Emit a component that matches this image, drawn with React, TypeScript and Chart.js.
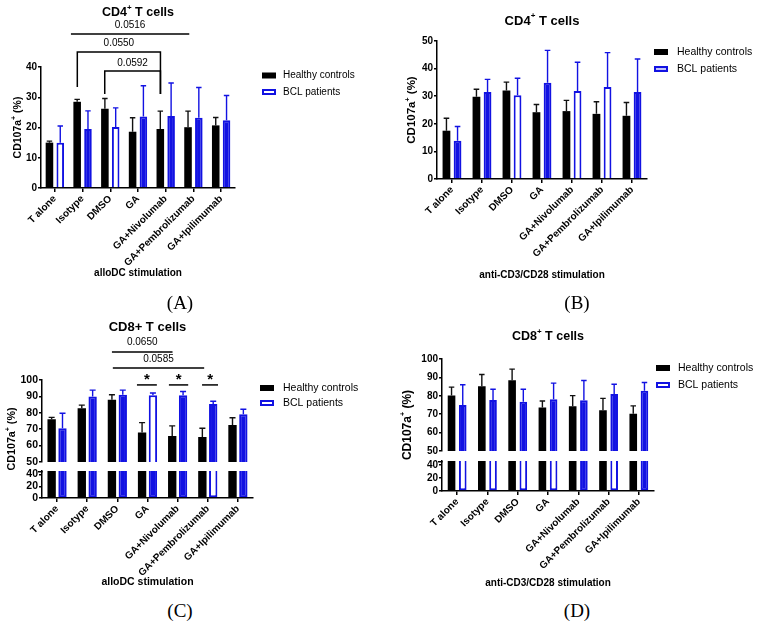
import React, { useEffect, useRef } from 'react';
import { Chart, registerables } from 'chart.js';

Chart.register(...registerables);

// ---------------- data ----------------
const categories = ['T alone', 'Isotype', 'DMSO', 'GA', 'GA+Nivolumab', 'GA+Pembrolizumab', 'GA+Ipilimumab'];
const seriesNames = ['Healthy controls', 'BCL patients'];

// (A) CD4+ T cells, alloDC stimulation
const cd4AlloHealthy = [15.0, 28.5, 26.2, 18.6, 19.5, 20.1, 20.7];
const cd4AlloHealthySD = [0.5, 0.8, 3.4, 4.6, 5.9, 5.3, 2.6];
const cd4AlloBcl = [15.0, 19.5, 20.2, 23.6, 23.8, 23.2, 22.4];
const cd4AlloBclSD = [5.5, 6.0, 6.3, 10.2, 10.9, 10.0, 8.2];

// (B) CD4+ T cells, anti-CD3/CD28 stimulation
const cd4Cd3Healthy = [17.5, 29.8, 32.1, 24.2, 24.6, 23.6, 22.9];
const cd4Cd3HealthySD = [4.5, 2.7, 3.0, 2.8, 3.9, 4.4, 4.8];
const cd4Cd3Bcl = [13.9, 31.5, 30.3, 34.9, 31.9, 33.3, 31.5];
const cd4Cd3BclSD = [5.1, 4.6, 6.2, 11.7, 10.4, 12.5, 12.0];

// (C) CD8+ T cells, alloDC stimulation
const cd8AlloHealthy = [76.0, 82.8, 88.0, 68.0, 65.8, 65.2, 72.5];
const cd8AlloHealthySD = [1.2, 1.9, 3.0, 6.0, 6.2, 5.4, 4.5];
const cd8AlloBcl = [70.6, 90.0, 91.0, 90.7, 90.7, 85.3, 79.1];
const cd8AlloBclSD = [9.1, 3.8, 2.8, 1.4, 2.3, 1.7, 3.1];

// (D) CD8+ T cells, anti-CD3/CD28 stimulation
const cd8Cd3Healthy = [80.1, 85.2, 88.5, 73.7, 74.3, 72.1, 70.3];
const cd8Cd3HealthySD = [4.6, 6.4, 6.0, 3.5, 5.8, 6.5, 4.2];
const cd8Cd3Bcl = [75.0, 77.7, 76.8, 78.1, 77.6, 81.0, 82.7];
const cd8Cd3BclSD = [11.0, 5.9, 6.8, 8.8, 10.7, 5.3, 4.5];

// significance brackets (x in category units, y in data units)
type Bracket = { x1: number; x2: number; y: number; leg1?: number; leg2?: number; text: string; ty: number; star?: boolean };
const bracketsA: Bracket[] = [
  { x1: 0.58, x2: 4.85, y: 50.9, text: '0.0516', ty: 53.7 },
  { x1: 0.81, x2: 3.81, y: 45.0, leg1: 33.4, leg2: 31.1, text: '0.0550', ty: 47.9 },
  { x1: 1.8, x2: 3.81, y: 38.7, leg1: 31.1, leg2: 31.1, text: '0.0592', ty: 41.3 },
];
const bracketsC: Bracket[] = [
  { x1: 1.82, x2: 3.83, y: 117.1, text: '0.0650', ty: 123.2 },
  { x1: 1.85, x2: 4.88, y: 107.3, text: '0.0585', ty: 112.8 },
  { x1: 2.65, x2: 3.31, y: 97.0, text: '*', ty: 97.3, star: true },
  { x1: 3.71, x2: 4.35, y: 97.0, text: '*', ty: 97.3, star: true },
  { x1: 4.81, x2: 5.34, y: 97.0, text: '*', ty: 97.3, star: true },
];

// ---------------- styles ----------------
const FONT = '"Liberation Sans", Arial, Helvetica, sans-serif';
const BLUE = '#1212e2';

type Legend = { boxX: number; y1: number; y2: number; textX: number; size: number; style: 'hollow' | 'stripe' };
type PanelCfg = {
  left: number; top: number; width: number; height: number;
  area: { left: number; right: number; top: number; bottom: number };
  broken: boolean;
  yMax?: number;
  weights?: [number, number, number];
  lowerMax?: number;
  healthy: number[]; healthySD: number[]; bcl: number[]; bclSD: number[];
  bclHollow: boolean[]; bclHollowLow?: boolean[];
  title: [string, string, string]; titleY: number; titleSize: number;
  yTitleX: number; yTitleSize: number;
  xTitle: string; xTitleY: number; xTitleSize: number;
  legend: Legend;
  brackets: Bracket[];
  catPct: number; barPct: number;
  tickSize: number; xTickSize: number;
};

function drawParts(ctx: CanvasRenderingContext2D, parts: string[], x: number, y: number, size: number, bold: boolean) {
  const w = bold ? 'bold ' : '';
  const main = `${w}${size}px ${FONT}`;
  const sup = `${w}${Math.round(size * 0.62)}px ${FONT}`;
  ctx.textBaseline = 'middle';
  ctx.textAlign = 'left';
  ctx.font = main;
  const w0 = ctx.measureText(parts[0]).width;
  const w2 = ctx.measureText(parts[2]).width;
  ctx.font = sup;
  const w1 = parts[1] ? ctx.measureText(parts[1]).width : 0;
  let cx = x - (w0 + w1 + w2) / 2;
  ctx.font = main;
  ctx.fillText(parts[0], cx, y);
  cx += w0;
  if (parts[1]) {
    ctx.font = sup;
    ctx.fillText(parts[1], cx, y - size * 0.38);
    cx += w1;
  }
  ctx.font = main;
  ctx.fillText(parts[2], cx, y);
}

function buildChart(canvas: HTMLCanvasElement, p: PanelCfg) {
  const a = p.area;
  const tickFont = { family: FONT, size: p.tickSize, weight: 'bold' as const };
  const mkY = (min: number, max: number, step: number, extra: any) => ({
    type: 'linear',
    position: 'left',
    min,
    max,
    stacked: false,
    grid: { drawOnChartArea: false, drawTicks: true, tickLength: 3, color: '#000', lineWidth: 1.5 },
    border: { display: true, color: '#000', width: 1.5 },
    ticks: { color: '#000', font: tickFont, stepSize: step, padding: 1, includeBounds: false, autoSkip: false },
    afterFit: (s: any) => { s.width = a.left; },
    ...extra,
  });

  const scales: any = {
    x: {
      type: 'category',
      offset: true,
      grid: { offset: false, drawOnChartArea: false, drawTicks: true, tickLength: 4, color: '#000', lineWidth: 1.5 },
      border: { display: true, color: '#000', width: 1.5 },
      ticks: { color: '#000', font: { family: FONT, size: p.xTickSize, weight: 'bold' }, minRotation: 45, maxRotation: 45, autoSkip: false, padding: 1 },
      afterFit: (s: any) => { s.height = p.height - a.bottom; },
    },
  };
  const upId = p.broken ? 'yUp' : 'y';
  if (!p.broken) {
    scales.y = mkY(0, p.yMax as number, 10, {});
  } else {
    const wts = p.weights as [number, number, number];
    scales.yLow = mkY(0, p.lowerMax as number, 20, { stack: 'v', stackWeight: wts[2] });
    scales.yGap = {
      type: 'linear', position: 'left', stack: 'v', stackWeight: wts[1], display: true,
      grid: { display: false, drawTicks: false }, border: { display: false }, ticks: { display: false },
      afterFit: (s: any) => { s.width = a.left; },
    };
    scales.yUp = mkY(50, 100, 10, { stack: 'v', stackWeight: wts[0] });
  }

  const datasets: any[] = [
    {
      label: seriesNames[0], data: p.healthy, backgroundColor: '#000', borderWidth: 0,
      stack: 'hc', yAxisID: upId, errors: p.healthySD, errColor: '#111',
    },
    {
      label: seriesNames[1], data: p.bcl, backgroundColor: p.bclHollow.map(h => (h ? '#fff' : BLUE)),
      borderColor: BLUE, borderWidth: 2, stack: 'bcl', yAxisID: upId, errors: p.bclSD, errColor: BLUE,
    },
  ];
  if (p.broken) {
    const hl = p.bclHollowLow as boolean[];
    datasets.push(
      { label: seriesNames[0], data: p.healthy, backgroundColor: '#000', borderWidth: 0, stack: 'hc', yAxisID: 'yLow', clipToAxis: true },
      {
        label: seriesNames[1], data: p.bcl, backgroundColor: hl.map(h => (h ? '#fff' : BLUE)),
        borderColor: BLUE, borderWidth: 2, borderSkipped: false, stack: 'bcl', yAxisID: 'yLow', clipToAxis: true,
      },
    );
  }

  const panelPlugin = {
    id: 'panelDeco',
    beforeDatasetDraw(chart: any, args: any) {
      const ds = chart.data.datasets[args.index];
      if (ds.clipToAxis) {
        const sc = chart.scales[ds.yAxisID];
        const ctx = chart.ctx;
        ctx.save();
        ctx.beginPath();
        ctx.rect(chart.chartArea.left, sc.top, chart.chartArea.right - chart.chartArea.left, sc.bottom - sc.top);
        ctx.clip();
      }
    },
    afterDatasetDraw(chart: any, args: any) {
      const ds = chart.data.datasets[args.index];
      if (ds.clipToAxis) chart.ctx.restore();
    },
    afterDatasetsDraw(chart: any) {
      const ctx: CanvasRenderingContext2D = chart.ctx;
      chart.data.datasets.forEach((ds: any, i: number) => {
        if (!ds.errors) return;
        const meta = chart.getDatasetMeta(i);
        const ys = chart.scales[meta.yAxisID];
        meta.data.forEach((el: any, j: number) => {
          const v = ds.data[j];
          const e = ds.errors[j];
          const yTop = el.y;
          const yE = ys.getPixelForValue(v + e);
          const cw = el.width * 0.72;
          ctx.save();
          ctx.strokeStyle = ds.errColor;
          ctx.lineWidth = 1.4;
          ctx.beginPath();
          ctx.moveTo(el.x, yTop);
          ctx.lineTo(el.x, yE);
          ctx.moveTo(el.x - cw / 2, yE);
          ctx.lineTo(el.x + cw / 2, yE);
          ctx.stroke();
          ctx.restore();
        });
      });
    },
    afterDraw(chart: any) {
      const ctx: CanvasRenderingContext2D = chart.ctx;
      const ca = chart.chartArea;
      const cx = (ca.left + ca.right) / 2;
      ctx.save();
      ctx.fillStyle = '#000';
      // title
      drawParts(ctx, p.title, cx, p.titleY, p.titleSize, true);
      // y title
      ctx.save();
      ctx.translate(p.yTitleX, (ca.top + ca.bottom) / 2);
      ctx.rotate(-Math.PI / 2);
      drawParts(ctx, ['CD107a', '+', ' (%)'], 0, 0, p.yTitleSize, true);
      ctx.restore();
      // x title
      ctx.font = `bold ${p.xTitleSize}px ${FONT}`;
      ctx.textAlign = 'center';
      ctx.textBaseline = 'middle';
      ctx.fillText(p.xTitle, cx, p.xTitleY);
      // legend
      const lg = p.legend;
      const bw = 14, bh = 6;
      ctx.fillStyle = '#000';
      ctx.fillRect(lg.boxX, lg.y1 - bh / 2, bw, bh);
      if (lg.style === 'hollow') {
        ctx.strokeStyle = BLUE;
        ctx.lineWidth = 2;
        ctx.strokeRect(lg.boxX + 1, lg.y2 - bh / 2 + 1, bw - 2, bh - 2);
      } else {
        ctx.fillStyle = BLUE;
        ctx.fillRect(lg.boxX, lg.y2 - bh / 2, bw, bh);
        ctx.fillStyle = '#fff';
        ctx.fillRect(lg.boxX + 2, lg.y2 - 0.75, bw - 4, 1.5);
      }
      ctx.fillStyle = '#000';
      ctx.font = `${lg.size}px ${FONT}`;
      ctx.textAlign = 'left';
      ctx.textBaseline = 'middle';
      ctx.fillText(seriesNames[0], lg.textX, lg.y1);
      ctx.fillText(seriesNames[1], lg.textX, lg.y2);
      // brackets
      const xs = chart.scales.x;
      const ys = chart.scales[upId];
      ctx.strokeStyle = '#000';
      ctx.lineWidth = 1.5;
      p.brackets.forEach((b) => {
        const x1 = xs.getPixelForValue(b.x1);
        const x2 = xs.getPixelForValue(b.x2);
        const y = ys.getPixelForValue(b.y);
        ctx.beginPath();
        ctx.moveTo(x1, b.leg1 !== undefined ? ys.getPixelForValue(b.leg1) : y);
        ctx.lineTo(x1, y);
        ctx.lineTo(x2, y);
        ctx.lineTo(x2, b.leg2 !== undefined ? ys.getPixelForValue(b.leg2) : y);
        ctx.stroke();
        ctx.textAlign = 'center';
        if (b.star) {
          ctx.font = `bold 15px ${FONT}`;
          ctx.textBaseline = 'alphabetic';
        } else {
          ctx.font = `10px ${FONT}`;
          ctx.textBaseline = 'middle';
        }
        ctx.fillText(b.text, (x1 + x2) / 2, ys.getPixelForValue(b.ty));
      });
      // axis break cap
      if (p.broken) {
        const low = chart.scales.yLow;
        ctx.beginPath();
        ctx.moveTo(ca.left - 4, low.top + 0.75);
        ctx.lineTo(ca.left + 0.75, low.top + 0.75);
        ctx.stroke();
      }
      ctx.restore();
    },
  };

  return new Chart(canvas, {
    type: 'bar',
    data: { labels: categories, datasets },
    options: {
      responsive: false,
      animation: false,
      layout: { padding: { left: 0, top: a.top, right: p.width - a.right, bottom: 0 }, autoPadding: false },
      datasets: { bar: { categoryPercentage: p.catPct, barPercentage: p.barPct } },
      plugins: { legend: { display: false }, title: { display: false }, tooltip: { enabled: false } },
      scales,
    } as any,
    plugins: [panelPlugin],
  });
}

// ---------------- panels ----------------
const F = false, T = true;
const panels: PanelCfg[] = [
  {
    left: 0, top: 0, width: 380, height: 290,
    area: { left: 41, right: 235, top: 67, bottom: 188 },
    broken: false, yMax: 40,
    healthy: cd4AlloHealthy, healthySD: cd4AlloHealthySD, bcl: cd4AlloBcl, bclSD: cd4AlloBclSD,
    bclHollow: [T, F, T, F, F, F, F],
    title: ['CD4', '+', ' T cells'], titleY: 13, titleSize: 12.5,
    yTitleX: 18, yTitleSize: 10.5,
    xTitle: 'alloDC stimulation', xTitleY: 273, xTitleSize: 10,
    legend: { boxX: 262, y1: 75.5, y2: 92, textX: 283, size: 10, style: 'hollow' },
    brackets: bracketsA, catPct: 0.78, barPct: 0.7, tickSize: 10, xTickSize: 10,
  },
  {
    left: 380, top: 0, width: 379, height: 290,
    area: { left: 57, right: 267, top: 41, bottom: 179 },
    broken: false, yMax: 50,
    healthy: cd4Cd3Healthy, healthySD: cd4Cd3HealthySD, bcl: cd4Cd3Bcl, bclSD: cd4Cd3BclSD,
    bclHollow: [F, F, T, F, T, T, F],
    title: ['CD4', '+', ' T cells'], titleY: 21, titleSize: 13,
    yTitleX: 32, yTitleSize: 11.5,
    xTitle: 'anti-CD3/CD28 stimulation', xTitleY: 275, xTitleSize: 10,
    legend: { boxX: 274, y1: 52, y2: 69, textX: 297, size: 10.5, style: 'stripe' },
    brackets: [], catPct: 0.74, barPct: 0.7, tickSize: 10, xTickSize: 10,
  },
  {
    left: 0, top: 312, width: 380, height: 285,
    area: { left: 42, right: 253, top: 68, bottom: 186 },
    broken: true, weights: [82, 9, 27], lowerMax: 46,
    healthy: cd8AlloHealthy, healthySD: cd8AlloHealthySD, bcl: cd8AlloBcl, bclSD: cd8AlloBclSD,
    bclHollow: [F, F, F, T, F, F, F], bclHollowLow: [F, F, F, F, F, T, F],
    title: ['CD8+ T cells', '', ''], titleY: 15, titleSize: 13,
    yTitleX: 12, yTitleSize: 10.7,
    xTitle: 'alloDC stimulation', xTitleY: 270, xTitleSize: 10.5,
    legend: { boxX: 260, y1: 76, y2: 91, textX: 283, size: 10.5, style: 'hollow' },
    brackets: bracketsC, catPct: 0.72, barPct: 0.77, tickSize: 10.5, xTickSize: 10,
  },
  {
    left: 380, top: 312, width: 379, height: 285,
    area: { left: 62, right: 274, top: 47, bottom: 179 },
    broken: true, weights: [92, 10, 30], lowerMax: 46,
    healthy: cd8Cd3Healthy, healthySD: cd8Cd3HealthySD, bcl: cd8Cd3Bcl, bclSD: cd8Cd3BclSD,
    bclHollow: [F, F, F, F, F, F, F], bclHollowLow: [T, T, T, T, F, T, F],
    title: ['CD8', '+', ' T cells'], titleY: 25, titleSize: 12.5,
    yTitleX: 28, yTitleSize: 12,
    xTitle: 'anti-CD3/CD28 stimulation', xTitleY: 271, xTitleSize: 10,
    legend: { boxX: 276, y1: 56, y2: 73, textX: 298, size: 10.5, style: 'hollow' },
    brackets: [], catPct: 0.74, barPct: 0.68, tickSize: 10, xTickSize: 10,
  },
];

const panelLabels = [
  { text: '(A)', x: 180, y: 302 },
  { text: '(B)', x: 577, y: 302 },
  { text: '(C)', x: 180, y: 610 },
  { text: '(D)', x: 577, y: 610 },
];

function Panel({ cfg }: { cfg: PanelCfg }) {
  const ref = useRef<HTMLCanvasElement>(null);
  useEffect(() => {
    const chart = buildChart(ref.current as HTMLCanvasElement, cfg);
    return () => chart.destroy();
  }, [cfg]);
  return (
    <canvas
      ref={ref}
      width={cfg.width}
      height={cfg.height}
      style={{ position: 'absolute', left: cfg.left, top: cfg.top, width: cfg.width, height: cfg.height }}
    />
  );
}

export default function App() {
  return (
    <div style={{ position: 'absolute', left: 0, top: 0, width: 759, height: 624, background: '#fff', overflow: 'hidden' }}>
      {panels.map((p, i) => <Panel key={i} cfg={p} />)}
      {panelLabels.map((l) => (
        <div
          key={l.text}
          style={{
            position: 'absolute', left: l.x, top: l.y, transform: 'translate(-50%, -50%)',
            fontFamily: '"Liberation Serif", "Times New Roman", serif', fontSize: 19, lineHeight: 1, color: '#000',
          }}
        >
          {l.text}
        </div>
      ))}
    </div>
  );
}
